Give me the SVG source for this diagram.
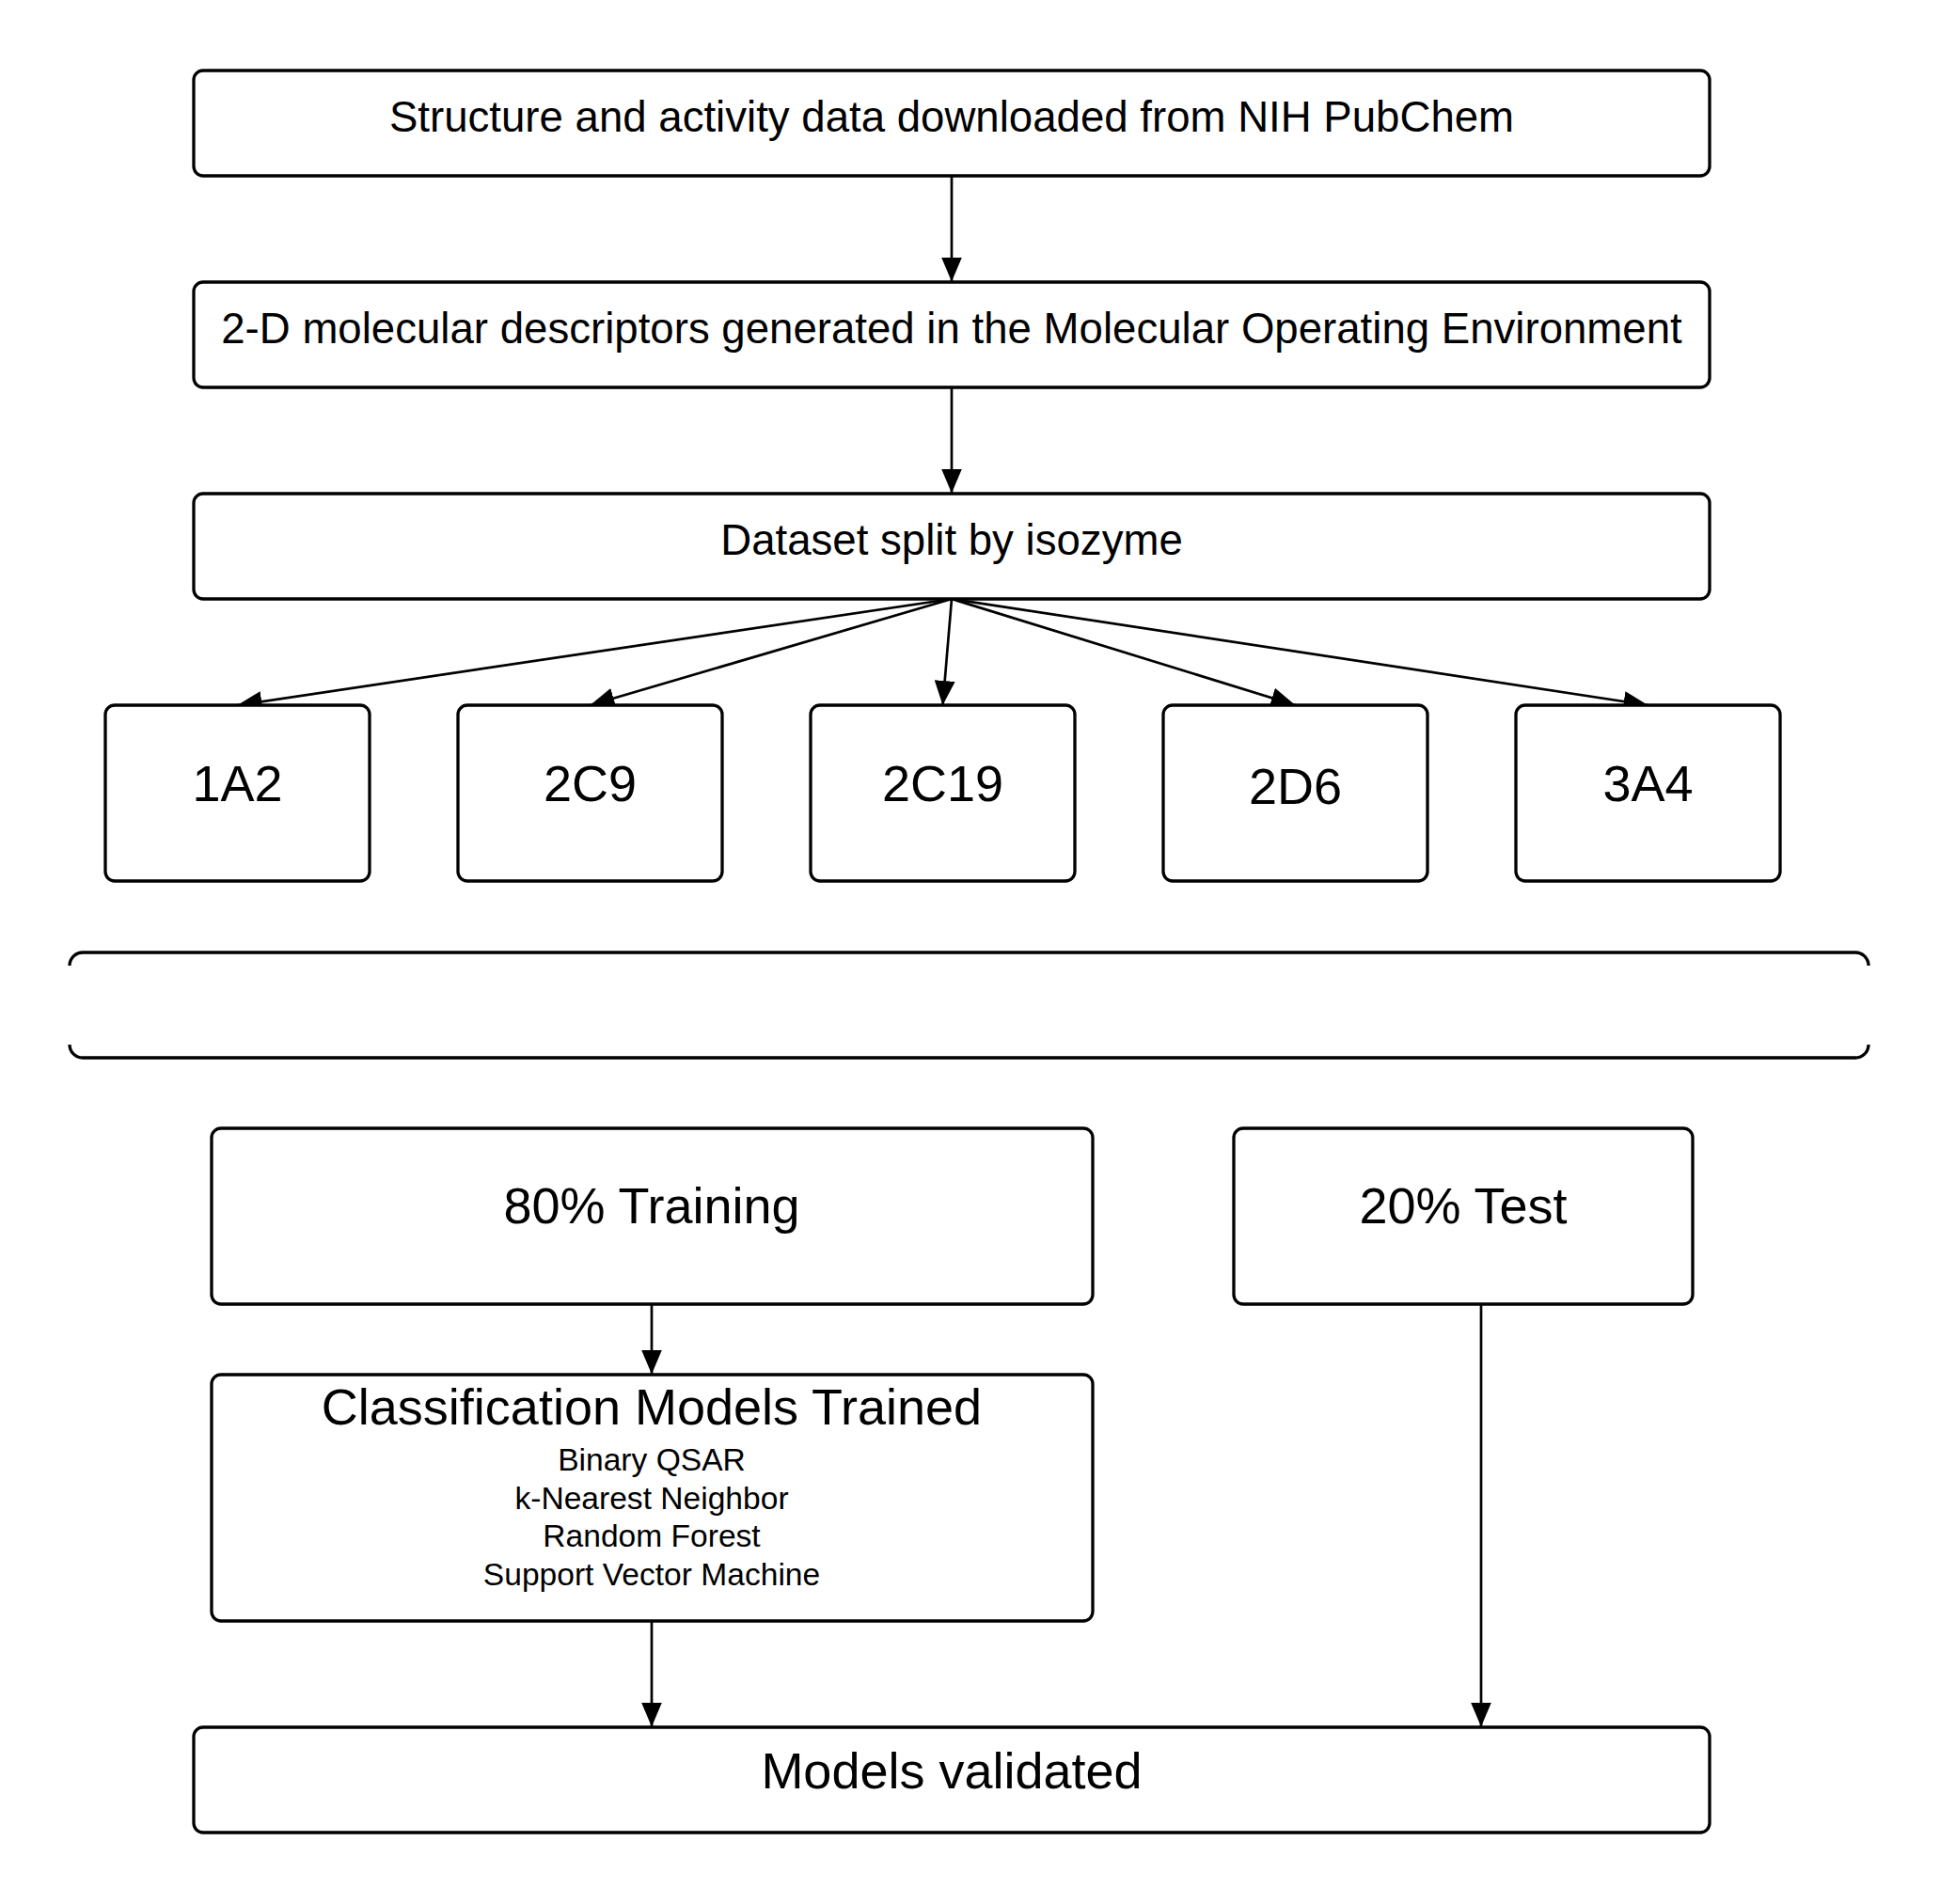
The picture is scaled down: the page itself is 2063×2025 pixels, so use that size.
<svg xmlns="http://www.w3.org/2000/svg" width="2063" height="2025" viewBox="0 0 2063 2025">
<defs>
<marker id="ah" markerUnits="userSpaceOnUse" viewBox="0 0 26 22" refX="26" refY="11" markerWidth="26" markerHeight="22" orient="auto"><path d="M0,0 L26,11 L0,22 z" fill="#000"/></marker>
<style>
.box{fill:#fff;stroke:#000;stroke-width:3.3}
.open{fill:none;stroke:#000;stroke-width:3.3}
.c{fill:none;stroke:#000;stroke-width:2.7;marker-end:url(#ah)}
text{font-family:"Liberation Sans",Arial,sans-serif;fill:#000;text-anchor:middle}
.t46{font-size:45.6px}
.t53{font-size:54px}
.t33{font-size:33.6px}
</style>
</defs>
<rect width="2063" height="2025" fill="#fff"/>
<g id="connectors">
<line class="c" x1="1012" y1="187" x2="1012" y2="299.5"/>
<line class="c" x1="1012" y1="412" x2="1012" y2="524.5"/>
<line class="c" x1="1012" y1="637" x2="252.5" y2="750"/>
<line class="c" x1="1012" y1="637" x2="627.5" y2="750"/>
<line class="c" x1="1012" y1="637" x2="1002.5" y2="750"/>
<line class="c" x1="1012" y1="637" x2="1377.5" y2="750"/>
<line class="c" x1="1012" y1="637" x2="1752.5" y2="750"/>
<line class="c" x1="693" y1="1387" x2="693" y2="1461.5"/>
<line class="c" x1="693" y1="1724" x2="693" y2="1836.5"/>
<line class="c" x1="1575" y1="1387" x2="1575" y2="1836.5"/>
</g>
<g id="n-pubchem">
<rect class="box" x="206" y="75" width="1612" height="112" rx="10"/>
<text class="t46" x="1012" y="140">Structure and activity data downloaded from NIH PubChem</text>
</g>
<g id="n-descriptors">
<rect class="box" x="206" y="300" width="1612" height="112" rx="10"/>
<text class="t46" x="1012" y="365">2-D molecular descriptors generated in the Molecular Operating Environment</text>
</g>
<g id="n-split">
<rect class="box" x="206" y="525" width="1612" height="112" rx="10"/>
<text class="t46" x="1012" y="590">Dataset split by isozyme</text>
</g>
<g id="n-1a2">
<rect class="box" x="112" y="750" width="281" height="187" rx="10"/>
<text class="t53" x="252.5" y="852">1A2</text>
</g>
<g id="n-2c9">
<rect class="box" x="487" y="750" width="281" height="187" rx="10"/>
<text class="t53" x="627.5" y="852">2C9</text>
</g>
<g id="n-2c19">
<rect class="box" x="862" y="750" width="281" height="187" rx="10"/>
<text class="t53" x="1002.5" y="852">2C19</text>
</g>
<g id="n-2d6">
<rect class="box" x="1237" y="750" width="281" height="187" rx="10"/>
<text class="t53" x="1377.5" y="855">2D6</text>
</g>
<g id="n-3a4">
<rect class="box" x="1612" y="750" width="281" height="187" rx="10"/>
<text class="t53" x="1752.5" y="852">3A4</text>
</g>
<g id="n-bracket">
<path class="open" d="M74,1027 A14,14 0 0 1 88,1013 L1973,1013 A14,14 0 0 1 1987,1027"/>
<path class="open" d="M74,1111 A14,14 0 0 0 88,1125 L1973,1125 A14,14 0 0 0 1987,1111"/>
</g>
<g id="n-training">
<rect class="box" x="225" y="1200" width="937" height="187" rx="10"/>
<text class="t53" x="693" y="1301">80% Training</text>
</g>
<g id="n-test">
<rect class="box" x="1312" y="1200" width="488" height="187" rx="10"/>
<text class="t53" x="1556" y="1301">20% Test</text>
</g>
<g id="n-models">
<rect class="box" x="225" y="1462" width="937" height="262" rx="10"/>
<text class="t53" x="693" y="1515">Classification Models Trained</text>
<text class="t33" x="693" y="1564">Binary QSAR</text>
<text class="t33" x="693" y="1604.5">k-Nearest Neighbor</text>
<text class="t33" x="693" y="1645">Random Forest</text>
<text class="t33" x="693" y="1685.5">Support Vector Machine</text>
</g>
<g id="n-validated">
<rect class="box" x="206" y="1837" width="1612" height="112" rx="10"/>
<text class="t53" x="1012" y="1902">Models validated</text>
</g>
</svg>
